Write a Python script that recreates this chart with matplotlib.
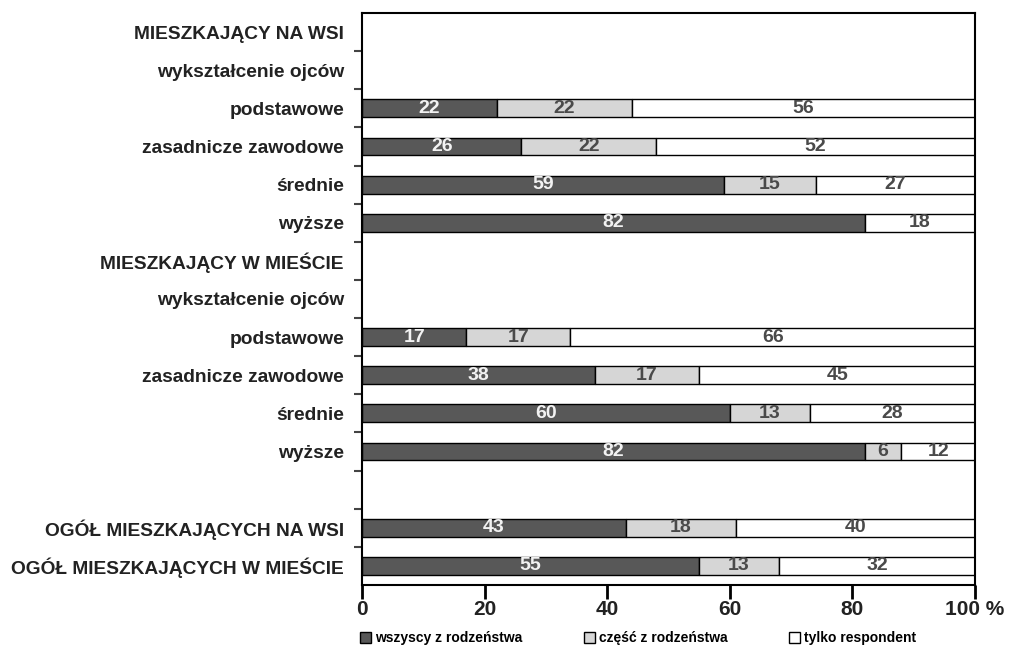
import numpy as np
import matplotlib.pyplot as plt
from matplotlib.patches import Patch

plt.rcParams['font.family'] = ['Liberation Sans', 'DejaVu Sans']

categories = ['MIESZKAJĄCY NA WSI', 'wykształcenie ojców', 'podstawowe',
              'zasadnicze zawodowe', 'średnie', 'wyższe',
              'MIESZKAJĄCY W MIEŚCIE', 'wykształcenie ojców', 'podstawowe',
              'zasadnicze zawodowe', 'średnie', 'wyższe', '',
              'OGÓŁ MIESZKAJĄCYCH NA WSI', 'OGÓŁ MIESZKAJĄCYCH W MIEŚCIE']
nan = np.nan
wszyscy = [nan, nan, 22, 26, 59, 82, nan, nan, 17, 38, 60, 82, nan, 43, 55]
czesc = [nan, nan, 22, 22, 15, 0, nan, nan, 17, 17, 13, 6, nan, 18, 13]
tylko = [nan, nan, 56, 52, 27, 18, nan, nan, 66, 45, 28, 12, nan, 40, 32]
series_names = ['wszyscy z rodzeństwa', 'część z rodzeństwa', 'tylko respondent']

colors = ['#585858', '#d6d6d6', '#ffffff']
text_colors = ['#f2f2f2', '#4a4a4a', '#4a4a4a']

fig = plt.figure(figsize=(10.21, 6.5), dpi=100)
ax = fig.add_axes([0.3546, 0.1, 0.6004, 0.88])

y = np.arange(len(categories))
left = np.zeros(len(categories))
for vals, col, tcol in zip([wszyscy, czesc, tylko], colors, text_colors):
    v = np.nan_to_num(np.array(vals, dtype=float))
    m = v > 0
    ax.barh(y[m], v[m], left=left[m], height=0.47, color=col,
            edgecolor='black', linewidth=1.0)
    for i in np.where(m)[0]:
        right = min(left[i] + v[i], 100)
        ax.text((left[i] + right) / 2, y[i], f'{int(v[i])}', ha='center',
                va='center', fontsize=14, fontweight='bold', color=tcol,
                family=['Liberation Sans Narrow', 'Liberation Sans'])
    left += v

ax.set_xlim(0, 100)
ax.set_ylim(len(categories) - 0.5, -0.5)
ax.set_yticks(y)
ax.set_yticklabels(categories, fontsize=13.8, fontweight='bold', color='#222222')
ax.tick_params(axis='y', length=0, pad=13)
ax.set_yticks(np.arange(0.5, len(categories) - 1, 1), minor=True)
ax.tick_params(axis='y', which='minor', length=6, width=1.5, color='#444444')

ax.set_xticks([0, 20, 40, 60, 80, 100])
ax.set_xticklabels(['0', '20', '40', '60', '80', '100 %'], fontsize=15,
                   fontweight='bold', color='#222222')
ax.tick_params(axis='x', length=10, width=2, pad=1)
for s in ax.spines.values():
    s.set_linewidth(1.5)

handles = [Patch(facecolor=c, edgecolor='black', linewidth=1) for c in colors]
fig.legend(handles, series_names, loc='center', bbox_to_anchor=(0.625, 0.018),
           ncol=3, frameon=False, prop={'weight': 'bold', 'size': 10},
           handlelength=0.8, handleheight=0.8, handletextpad=0.3,
           columnspacing=4.4)

fig.savefig('out.png', dpi=100)
